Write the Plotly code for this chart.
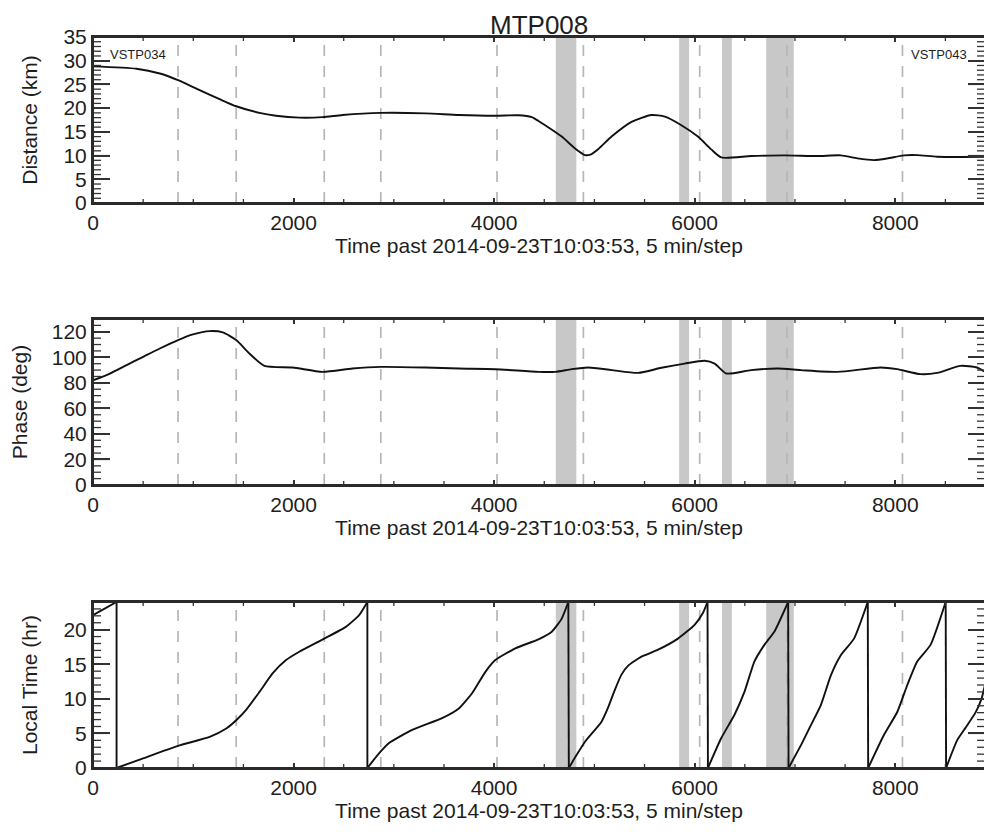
import plotly.graph_objects as go

# ---------------- data ----------------
dist_t = [0, 434, 666, 848, 1063, 1262, 1428, 1660, 1825, 2057, 2289, 2488, 2869, 3316, 3648, 4012,
          4243, 4375, 4442, 4509, 4674, 4807, 4906, 4960, 5040, 5171, 5370, 5569, 5702, 5867, 6032, 6165,
          6264, 6562, 6894, 7225, 7457, 7623, 7789, 7921, 8087, 8219, 8418, 8650, 8895]
dist_km = [28.8, 28.3, 27.3, 25.9, 23.8, 21.9, 20.4, 19.0, 18.4, 18.0, 18.1, 18.55, 19.0, 18.9, 18.55, 18.4,
           18.5, 18.1, 17.3, 16.4, 14.0, 11.5, 10.1, 10.2, 11.4, 14.0, 17.1, 18.55, 18.2, 16.4, 14.0, 11.3,
           9.6, 9.9, 10.05, 9.9, 10.05, 9.4, 9.05, 9.4, 10.05, 10.1, 9.75, 9.7, 9.75]

phase_t = [0, 169, 335, 500, 666, 848, 997, 1163, 1295, 1428, 1560, 1709, 1991, 2289, 2587, 2869, 3316,
           3648, 4012, 4442, 4608, 4774, 4939, 5171, 5436, 5668, 5900, 6099, 6199, 6315, 6562, 6827,
           7059, 7424, 7853, 8020, 8252, 8418, 8650, 8815, 8895]
phase_deg = [82, 87.3, 93.9, 100.4, 106.9, 113.5, 117.9, 120.5, 119.5, 113.5, 103, 93.3, 92.0, 88.6, 91.2,
             92.5, 92.0, 91.2, 90.7, 88.6, 88.6, 90.7, 92.0, 90.0, 87.8, 91.8, 95.1, 97.3, 95.1, 87.3,
             90.0, 91.2, 90.0, 88.6, 92.0, 90.7, 86.8, 87.8, 93.3, 92.0, 88.6]

# local time: each orbit segment runs 0 -> 24 h; the plotted line drops back at each wrap
lt_t = [0, 235,
        235, 500, 848, 1163, 1329, 1428, 1527, 1660, 1793, 1925, 2057, 2306, 2521, 2654, 2736,
        2736, 2852, 2952, 3183, 3481, 3648, 3780, 3913, 4012, 4211, 4442, 4575, 4674, 4740,
        4745, 4823, 4906, 5071, 5138, 5204, 5270, 5337, 5469, 5635, 5833, 5999, 6082, 6128,
        6132, 6264, 6397, 6496, 6596, 6695, 6794, 6932,
        6936, 7060, 7159, 7258, 7358, 7457, 7589, 7726,
        7730, 7888, 8020, 8120, 8219, 8352, 8503,
        8507, 8617, 8700, 8800, 8860, 8895]
lt_hr = [22.1, 24,
         0, 1.4, 3.2, 4.5, 5.7, 6.9, 8.4, 11.0, 13.7, 15.6, 16.8, 18.7, 20.4, 22.1, 24,
         0, 2.1, 3.6, 5.5, 7.2, 8.6, 10.8, 13.9, 15.6, 17.3, 18.6, 19.7, 21.6, 24,
         0, 1.9, 3.8, 6.7, 8.8, 11.3, 13.5, 14.8, 16.1, 17.1, 18.7, 20.7, 22.4, 24,
         0, 4.3, 7.7, 11.0, 15.4, 17.8, 19.7, 24,
         0, 3.3, 6.2, 9.1, 13.4, 16.3, 18.7, 24,
         0, 4.8, 8.1, 12.0, 15.4, 17.8, 24,
         0, 4.0, 5.8, 8.0, 10.0, 12.0]

band_start = [4615, 5845, 6272, 6713]
band_end = [4820, 5944, 6371, 6988]
dashed_t = [848, 1428, 2306, 2870, 4029, 4890, 6050, 6921, 8072]

x_ticks = [0, 2000, 4000, 6000, 8000]
x_minor_ticks = list(range(0, 8895, 500))
x_range = [0, 8895]
x_title = "Time past 2014-09-23T10:03:53, 5 min/step"
plot_title = "MTP008"
panels = [
    dict(t=dist_t, v=dist_km, title="Distance (km)", rng=[0, 35], dtick=5, minor=1),
    dict(t=phase_t, v=phase_deg, title="Phase (deg)", rng=[0, 130], dtick=20, minor=5),
    dict(t=lt_t, v=lt_hr, title="Local Time (hr)", rng=[0, 24], dtick=5, minor=1),
]

# ---------------- layout geometry (figure pixels) ----------------
W, H = 984, 824
ML, MR, MT, MB = 85, 5, 29, 64
ph = H - MT - MB
panel_px = [(29, 195), (311, 477), (594, 760)]  # top, bottom

FONT = "Liberation Sans, Arial, Helvetica, sans-serif"
TXT = "#1e1e1e"
AX = "#2a2a2a"
TK = "#333333"
LINE = dict(color="#111111", width=1.9)

fig = go.Figure()
shapes = []
axes = {}
for i, p in enumerate(panels):
    n = "" if i == 0 else str(i + 1)
    top, bot = panel_px[i]
    dom = [round((H - MB - bot) / ph, 5), round((H - MB - top) / ph, 5)]
    t, v = p["t"], p["v"]
    if i < 2:
        fig.add_trace(go.Scatter(x=t, y=v, mode="lines",
                                 line=dict(**LINE, shape="spline", smoothing=0.6),
                                 xaxis="x" + n, yaxis="y" + n, hoverinfo="skip"))
    else:
        # split at wraps: smooth segments plus the connecting drop lines
        start = 0
        for k in range(1, len(t) + 1):
            if k == len(t) or v[k] < v[k - 1]:
                fig.add_trace(go.Scatter(x=t[start:k], y=v[start:k], mode="lines",
                                         line=dict(**LINE, shape="spline", smoothing=0.5),
                                         xaxis="x" + n, yaxis="y" + n, hoverinfo="skip"))
                if k < len(t):
                    fig.add_trace(go.Scatter(x=[t[k - 1], t[k]], y=[v[k - 1], v[k]], mode="lines",
                                             line=dict(**LINE), xaxis="x" + n, yaxis="y" + n,
                                             hoverinfo="skip"))
                start = k
    axes["xaxis" + n] = dict(
        domain=[0, 1], anchor="y" + n, range=x_range, tickmode="array", tickvals=x_ticks,
        ticks="inside", ticklen=5, tickwidth=1.5, tickcolor=TK,
        showline=True, linecolor=AX, linewidth=2, mirror="ticks",
        showgrid=False, zeroline=False,
        tickfont=dict(size=21, color=TXT),
        title=dict(text=x_title, font=dict(size=21, color=TXT), standoff=0),
    )
    axes["yaxis" + n] = dict(
        domain=dom, anchor="x" + n, range=p["rng"], tickmode="linear", dtick=p["dtick"], tick0=0,
        ticks="inside", ticklen=17, tickwidth=1.5, tickcolor=TK,
        showline=True, linecolor=AX, linewidth=2, mirror="ticks",
        showgrid=False, zeroline=False,
        tickfont=dict(size=21, color=TXT),
        title=dict(text=p["title"], font=dict(size=21, color=TXT), standoff=20),
    )
    # shaded intervals and dashed event markers
    for s, e in zip(band_start, band_end):
        shapes.append(dict(type="rect", xref="x" + n, yref="y" + n + " domain",
                           x0=s, x1=e, y0=0, y1=1, fillcolor="#c8c8c8",
                           line=dict(width=0), layer="below"))
    for d in dashed_t:
        shapes.append(dict(type="line", xref="x" + n, yref="y" + n + " domain",
                           x0=d, x1=d, y0=0, y1=1,
                           line=dict(color="#b6b6b6", width=1.7, dash="11px,10px"), layer="below"))
    # tick comb on left/right (major + minor), placed via the y axis scale
    lo, hi = p["rng"]
    yv = lo
    while yv <= hi + 1e-9:
        ln = 17 if abs(yv / p["dtick"] - round(yv / p["dtick"])) < 1e-9 else 8
        for anc, a, b in ((0, 0, ln), (1, -ln, 0)):
            shapes.append(dict(type="line", xref="x" + n + " domain", yref="y" + n,
                               xsizemode="pixel", xanchor=anc, x0=a, x1=b, y0=yv, y1=yv,
                               line=dict(color=TK, width=1.3), layer="above"))
        yv += p["minor"]
    # small ticks on bottom/top every 500 steps
    for xv in x_minor_ticks:
        for anc, a, b in ((0, 0, 4), (1, -4, 0)):
            shapes.append(dict(type="line", xref="x" + n, yref="y" + n + " domain",
                               ysizemode="pixel", yanchor=anc, y0=a, y1=b, x0=xv, x1=xv,
                               line=dict(color=TK, width=1.3), layer="above"))
    # panel frame
    shapes.append(dict(type="rect", xref="x" + n + " domain", yref="y" + n + " domain",
                       x0=0, x1=1, y0=0, y1=1, line=dict(color=AX, width=2), layer="above"))

fig.update_layout(
    width=W, height=H,
    margin=dict(l=ML, r=MR, t=MT, b=MB),
    paper_bgcolor="white", plot_bgcolor="white",
    showlegend=False,
    font=dict(family=FONT, size=21, color=TXT),
    shapes=shapes,
    annotations=[
        dict(text=plot_title, xref="paper", yref="paper", x=0.5, y=1 + MT / ph,
             xanchor="center", yanchor="top", showarrow=False, font=dict(size=26, color=TXT)),
        dict(text="VSTP034", xref="x", yref="y", x=150, y=31.4, xanchor="left", yanchor="middle",
             showarrow=False, font=dict(size=13, color=TXT)),
        dict(text="VSTP043", xref="x", yref="y", x=8735, y=31.4, xanchor="right", yanchor="middle",
             showarrow=False, font=dict(size=13, color=TXT)),
    ],
    **axes,
)
fig.write_html("out.html")
